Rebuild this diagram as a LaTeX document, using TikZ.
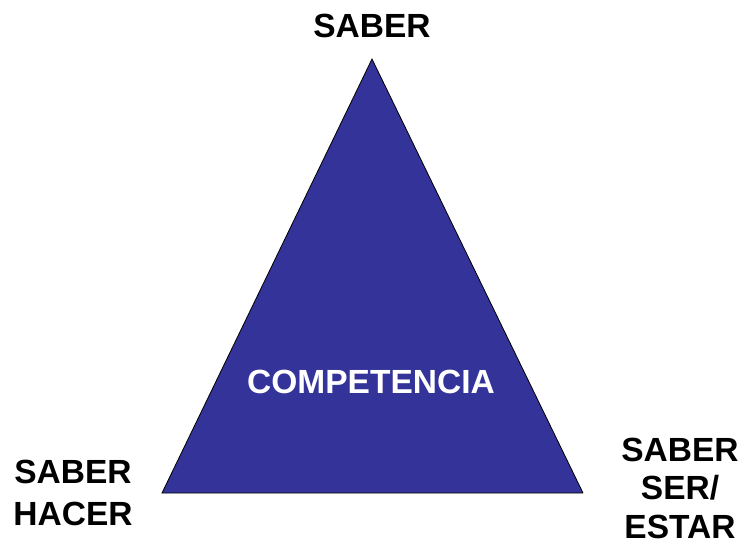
\documentclass[tikz,border=0pt]{standalone}
\usepackage{fontspec}
\setmainfont{Liberation Sans}
\definecolor{triblue}{HTML}{333399}
\begin{document}
\begin{tikzpicture}[x=1pt,y=-1pt,
  lbl/.style={anchor=base,inner sep=0pt,font=\fontsize{33.5}{38}\selectfont\bfseries,text=black},
  wlbl/.style={lbl,text=white}]
\useasboundingbox (0,0) rectangle (744,547);
\coordinate (apex) at (372,59);
\coordinate (bl) at (162,493);
\coordinate (br) at (583,493);
\fill[triblue] (apex) -- (bl) -- (br) -- cycle;
\draw[black,line width=0.8pt,line join=miter] (br) -- (apex) -- (bl) -- (br);
\node[lbl] (top) at (372,37) {SABER};
\node[wlbl] (mid) at (371,393) {COMPETENCIA};
\node[lbl] (l1) at (73,483) {SABER};
\node[lbl] (l2) at (73,525) {HACER};
\node[lbl] (r1) at (680,461) {SABER};
\node[lbl] (r2) at (680,499) {SER/};
\node[lbl] (r3) at (680,538) {ESTAR};
\end{tikzpicture}
\end{document}
